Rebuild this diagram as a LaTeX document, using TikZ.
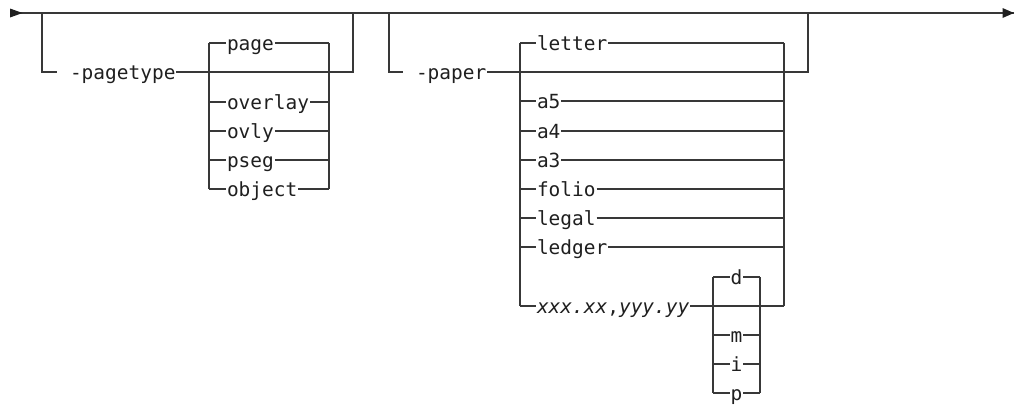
\documentclass[tikz,border=0pt]{standalone}
\usepackage{fontspec}
\newfontfamily\railmono{DejaVu Sans Mono}
\begin{document}
\begin{tikzpicture}[x=0.75pt,y=-0.75pt,
  rail/.style={draw=black!78, line width=0.85pt},
  tip/.style={fill=black!88},
  lbl/.style={font=\fontsize{14.6}{16}\selectfont\railmono, text=black!88,
    inner xsep=0.75pt, inner ysep=0pt, outer sep=0pt,
    text height=12.5pt, text depth=2pt, anchor=west},
  clbl/.style={lbl, anchor=center},
  ilbl/.style={lbl, font=\fontsize{14.6}{16}\selectfont\railmono\itshape}]
\useasboundingbox (0,0) rectangle (1017,407);

% main line
\coordinate (s) at (10,13);
\coordinate (e) at (1014,13);
\draw[rail] (s) -- (e);
\fill[tip] (s) ++(0,-4.5) -- ++(12.5,4.5) -- ++(-12.5,4.5) -- cycle;
\fill[tip] (e) ++(-11.5,-5) -- ++(11.5,5) -- ++(-11.5,5) -- cycle;

% ---- group 1: -pagetype
\coordinate (g1a) at (42,13);
\coordinate (g1b) at (42,72);
\coordinate (g1c) at (57,72);
\coordinate (g1d) at (353,72);
\coordinate (g1e) at (353,13);
\node[lbl] (pt) at (69,72) {-pagetype};
\draw[rail] (g1a) -- (g1b) -- (g1c);
\draw[rail] (pt.east) -- (g1d) -- (g1e);

\coordinate (p1) at (209,43);
\coordinate (p2) at (209,189);
\coordinate (q1) at (329,43);
\coordinate (q2) at (329,189);
\draw[rail] (p1) -- (p2);
\draw[rail] (q1) -- (q2);
\node[lbl] (page)    at (226,43)  {page};
\node[lbl] (overlay) at (226,102) {overlay};
\node[lbl] (ovly)    at (226,131) {ovly};
\node[lbl] (pseg)    at (226,160) {pseg};
\node[lbl] (object)  at (226,189) {object};
\foreach \n in {page,overlay,ovly,pseg,object}{
  \draw[rail] (\n.west -| p1) -- (\n.west);
  \draw[rail] (\n.east) -- (\n.east -| q1);
}

% ---- group 2: -paper
\coordinate (h1) at (389,13);
\coordinate (h2) at (389,72);
\coordinate (h3) at (403,72);
\coordinate (h4) at (808,72);
\coordinate (h5) at (808,13);
\node[lbl] (paper) at (415,72) {-paper};
\draw[rail] (h1) -- (h2) -- (h3);
\draw[rail] (paper.east) -- (h4) -- (h5);

\coordinate (r1) at (520,43);
\coordinate (r2) at (520,306);
\coordinate (t1) at (784,43);
\coordinate (t2) at (784,306);
\draw[rail] (r1) -- (r2);
\draw[rail] (t1) -- (t2);
\node[lbl] (letter) at (536,43)  {letter};
\node[lbl] (a5)     at (536,101) {a5};
\node[lbl] (a4)     at (536,131) {a4};
\node[lbl] (a3)     at (536,160) {a3};
\node[lbl] (folio)  at (536,189) {folio};
\node[lbl] (legal)  at (536,218) {legal};
\node[lbl] (ledger) at (536,247) {ledger};
\node[ilbl] (xy)    at (536,306) {xxx.xx\upshape,\itshape yyy.yy};
\foreach \n in {letter,a5,a4,a3,folio,legal,ledger}{
  \draw[rail] (\n.west -| r1) -- (\n.west);
  \draw[rail] (\n.east) -- (\n.east -| t1);
}
\draw[rail] (r2) -- (xy.west);
\draw[rail] (xy.east) -- (t2);

% unit group
\coordinate (u1) at (713,277);
\coordinate (u2) at (713,393);
\coordinate (v1) at (760,277);
\coordinate (v2) at (760,393);
\draw[rail] (u1) -- (u2);
\draw[rail] (v1) -- (v2);
\node[clbl] (ud) at (736.5,277) {d};
\node[clbl] (um) at (736.5,335) {m};
\node[clbl] (ui) at (736.5,364) {i};
\node[clbl] (up) at (736.5,393) {p};
\foreach \n in {ud,um,ui,up}{
  \draw[rail] (\n.west -| u1) -- (\n.west);
  \draw[rail] (\n.east) -- (\n.east -| v1);
}
\end{tikzpicture}
\end{document}
